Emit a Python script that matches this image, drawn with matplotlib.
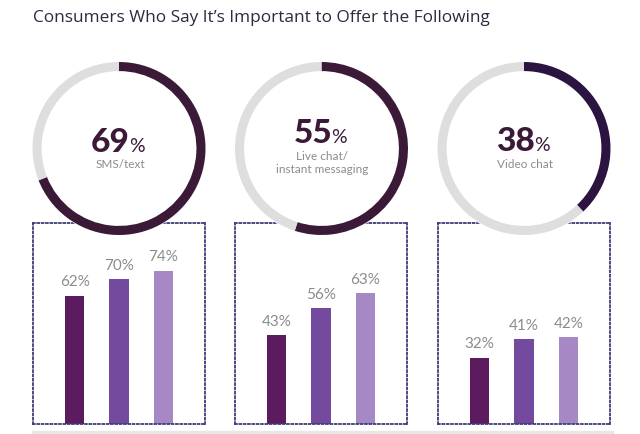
import matplotlib
matplotlib.use("Agg")
import matplotlib.pyplot as plt
from matplotlib.patches import Circle
from matplotlib.lines import Line2D

plt.rcParams['font.family'] = ['Lato', 'DejaVu Sans']

# data
title = "Consumers Who Say It\u2019s Important to Offer the Following"
channels = ["SMS/text", "Live chat/\ninstant messaging", "Video chat"]
overall = [69, 55, 38]
groups = ["Group 1", "Group 2", "Group 3"]
by_group = [
    [62, 70, 74],
    [43, 56, 63],
    [32, 41, 42],
]

ring_colors = ["#3b1a38", "#3b1a38", "#2b1440"]
ring_gray = "#dedede"
bar_colors = ["#5c1a5f", "#744a9f", "#a689c4"]
label_gray = "#8c8c8c"
box_color = "#3d3d78"

W, H = 640, 434
fig = plt.figure(figsize=(W / 100, H / 100), dpi=100)


def px_axes(x0, y0, x1, y1):
    # pixel box (top-left origin) -> figure axes
    return fig.add_axes([x0 / W, 1 - y1 / H, (x1 - x0) / W, (y1 - y0) / H])


def fy(y):
    return 1 - y / H


fig.text(33 / W, fy(17.5), title, ha='left', va='center',
         fontsize=12.4, color="#2d2a40", family=['Open Sans', 'DejaVu Sans'])

box_left = [33, 235, 438]
box_w = 172
ring_cx = [119, 321.5, 524]
ring_cy = 148.5
ring_r = 86.5
num_base = [152, 143, 151]   # baseline of the big number
sub_top = [159, 151, 159]    # top of the caption under it

for i in range(3):
    # bar panel
    bx = box_left[i]
    ax = px_axes(bx, 223, bx + box_w, 424)
    ax.set_zorder(1)
    xs = range(len(groups))
    bars = ax.bar(xs, by_group[i], width=0.44, color=bar_colors, zorder=2)
    for b, v in zip(bars, by_group[i]):
        ax.annotate(f"{v}%", (b.get_x() + b.get_width() / 2, v),
                    xytext=(0, 4.5), textcoords='offset points',
                    ha='center', va='bottom', fontsize=11,
                    color=label_gray)
    ax.set_xlim(-0.94, 2.94)
    ax.set_ylim(0, 97)
    ax.set_xticks([])
    ax.set_yticks([])
    for s in ax.spines.values():
        s.set_linestyle((0, (1, 1.4)))
        s.set_linewidth(1.3)
        s.set_color(box_color)

    # donut
    rax = px_axes(ring_cx[i] - ring_r, ring_cy - ring_r,
                  ring_cx[i] + ring_r, ring_cy + ring_r)
    rax.set_zorder(2)
    rax.patch.set_alpha(0)
    rax.add_patch(Circle((0, 0), 1, color='white', zorder=0))
    rax.pie([overall[i], 100 - overall[i]], startangle=90, counterclock=False,
            colors=[ring_colors[i], ring_gray], radius=1,
            wedgeprops=dict(width=0.105, linewidth=0))
    rax.set_xlim(-1, 1)
    rax.set_ylim(-1, 1)
    rax.set_aspect('auto')
    rax.axis('off')

    cx = ring_cx[i]
    fig.text((cx + 11) / W, fy(num_base[i]), f"{overall[i]}",
             ha='right', va='baseline', fontsize=24, fontweight='black',
             color="#3b1a38")
    fig.text((cx + 10) / W, fy(num_base[i]), "%",
             ha='left', va='baseline', fontsize=14, color="#3b1a38")
    fig.text((cx + 1) / W, fy(sub_top[i]), channels[i],
             ha='center', va='top', fontsize=8.5, color=label_gray,
             linespacing=1.25)

fig.add_artist(Line2D([33 / W, 612 / W], [fy(432), fy(432)],
                      color="#e8e8e8", linewidth=2.5))

fig.savefig("out.png", dpi=100)
